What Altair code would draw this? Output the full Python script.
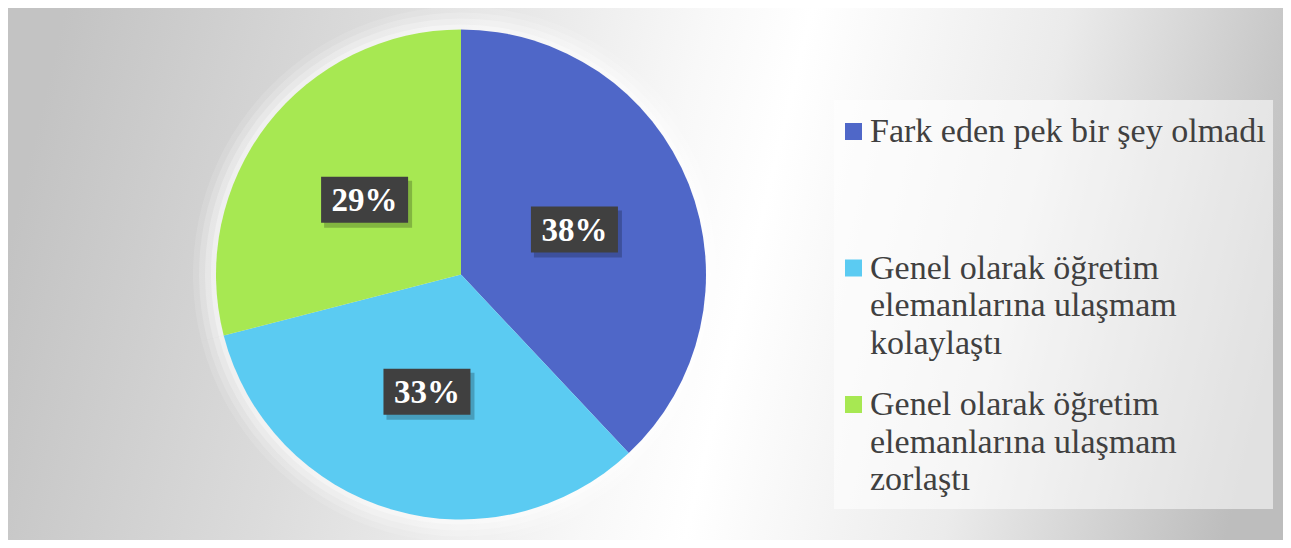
import altair as alt
import pandas as pd

# ---- data ----
categories = [
    "Fark eden pek bir şey olmadı",
    "Genel olarak öğretim elemanlarına ulaşmam kolaylaştı",
    "Genel olarak öğretim elemanlarına ulaşmam zorlaştı",
]
legend_labels = [
    "Fark eden pek bir şey olmadı",
    "Genel olarak öğretim\nelemanlarına ulaşmam\nkolaylaştı",
    "Genel olarak öğretim\nelemanlarına ulaşmam\nzorlaştı",
]
values = [38, 33, 29]
colors = ["#4f67c8", "#5bcbf2", "#a7e852"]

W, H = 1275, 532
CX, CY, R = 453, 266.5, 245
LABEL_R = 122

df = pd.DataFrame({
    "idx": list(range(len(categories))),
    "category": categories,
    "legend_label": legend_labels,
    "value": values,
})

color_scale = alt.Scale(domain=categories, range=colors)

base = alt.Chart(df)

# background gradient
bg = alt.Chart(pd.DataFrame({"a": [0]})).mark_rect(
    color={
        "gradient": "linear",
        "x1": 0, "y1": 0.45, "x2": 1, "y2": 0.55,
        "stops": [
            {"offset": 0, "color": "#c3c3c3"},
            {"offset": 0.25, "color": "#dcdcdc"},
            {"offset": 0.5, "color": "#f8f8f8"},
            {"offset": 0.58, "color": "#ffffff"},
            {"offset": 0.78, "color": "#ebebeb"},
            {"offset": 1, "color": "#bdbdbd"},
        ],
    }
).encode(x=alt.value(0), x2=alt.value(W), y=alt.value(0), y2=alt.value(H))

theta = alt.Theta("value:Q", stack=True)
order = alt.Order("idx:Q")

glows = []
for r, op in [(268, 0.12), (262, 0.18), (256, 0.25), (250, 0.35)]:
    glows.append(
        base.mark_arc(outerRadius=r, color="white", opacity=op).encode(
            theta=theta, order=order, x=alt.value(CX), y=alt.value(CY)
        )
    )

pie = base.mark_arc(outerRadius=R).encode(
    theta=theta,
    order=order,
    color=alt.Color("category:N", scale=color_scale, legend=None),
    x=alt.value(CX),
    y=alt.value(CY),
)

lab = base.transform_joinaggregate(
    total="sum(value)"
).transform_window(
    cum="sum(value)", sort=[alt.SortField("idx")], frame=[None, 0]
).transform_calculate(
    mid="(datum.cum - datum.value/2) / datum.total * 2 * PI",
    pct="datum.value / datum.total",
).transform_calculate(
    lx=f"{CX} + {LABEL_R} * sin(datum.mid)",
    ly=f"{CY} - {LABEL_R} * cos(datum.mid)",
).transform_calculate(
    bx1="datum.lx - 43.5", bx2="datum.lx + 43.5",
    by1="datum.ly - 23", by2="datum.ly + 23",
    sx1="datum.lx - 40.5", sx2="datum.lx + 47.5",
    sy1="datum.ly - 19", sy2="datum.ly + 28",
)

shadow = lab.mark_rect(color="#000000", opacity=0.22).encode(
    x=alt.X("sx1:Q", scale=None, axis=None), x2="sx2:Q",
    y=alt.Y("sy1:Q", scale=None, axis=None), y2="sy2:Q",
)
box = lab.mark_rect(color="#404040").encode(
    x=alt.X("bx1:Q", scale=None, axis=None), x2="bx2:Q",
    y=alt.Y("by1:Q", scale=None, axis=None), y2="by2:Q",
)
txt = lab.mark_text(
    font="Liberation Serif", fontSize=33, fontWeight="bold", color="white",
    baseline="middle", align="center", dy=1,
).encode(
    x=alt.X("lx:Q", scale=None, axis=None),
    y=alt.Y("ly:Q", scale=None, axis=None),
    text=alt.Text("pct:Q", format=".0%"),
)

# legend
legend_box = alt.Chart(pd.DataFrame({"a": [0]})).mark_rect(
    color="white", opacity=0.55
).encode(x=alt.value(826), x2=alt.value(1265), y=alt.value(92), y2=alt.value(501))

leg = base.transform_calculate(
    sy="123.5 + datum.idx * 136.5",
    ty="134 + datum.idx * 136.5",
)
leg_sq = leg.mark_square(size=289, opacity=1).encode(
    x=alt.value(845.5),
    y=alt.Y("sy:Q", scale=None, axis=None),
    color=alt.Color("category:N", scale=color_scale, legend=None),
)
leg_txt = leg.mark_text(
    align="left", baseline="alphabetic", font="Liberation Serif",
    fontSize=34, color="#404040", lineBreak="\n", lineHeight=37.5,
).encode(
    x=alt.value(862),
    y=alt.Y("ty:Q", scale=None, axis=None),
    text="legend_label:N",
)

chart = alt.layer(
    bg, *glows, pie, shadow, box, txt, legend_box, leg_sq, leg_txt
).properties(
    width=W, height=H, padding=0,
    autosize=alt.AutoSizeParams(type="none"),
).configure_view(strokeWidth=0)

chart.save("out.html", embed_options={"renderer": "svg", "actions": False})
